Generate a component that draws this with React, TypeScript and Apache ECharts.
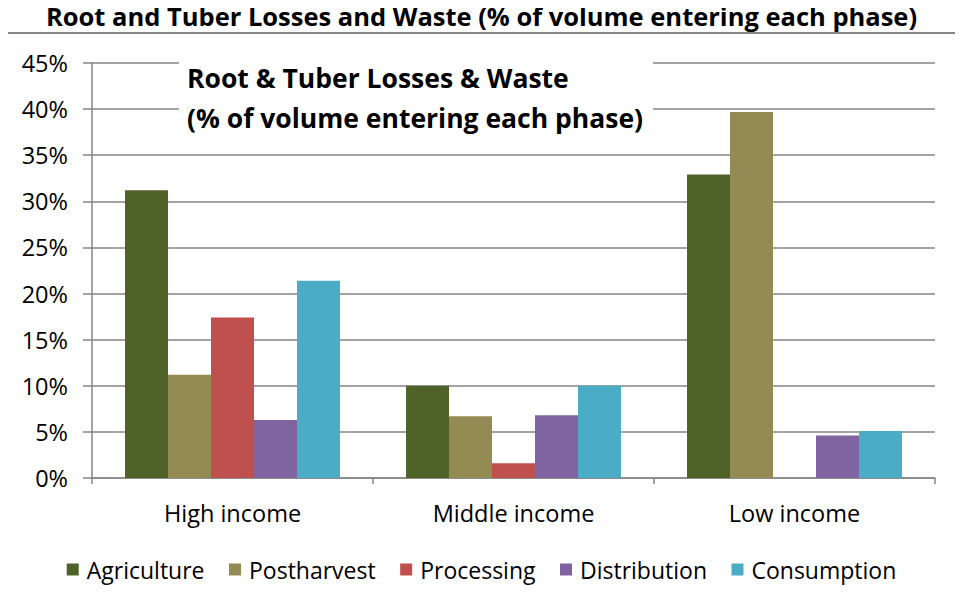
import React, { useEffect, useRef } from "react";
import * as echarts from "echarts";

const categories = ["High income", "Middle income", "Low income"];
const seriesNames = ["Agriculture", "Postharvest", "Processing", "Distribution", "Consumption"];
const agriculture = [31.2, 10.0, 32.9];
const postharvest = [11.2, 6.7, 39.7];
const processing = [17.4, 1.6, null];
const distribution = [6.3, 6.8, 4.6];
const consumption = [21.4, 10.0, 5.1];
const colors = ["#4F6228", "#948A54", "#C0504D", "#8064A2", "#4BACC6"];
const yTicks = { min: 0, max: 45, interval: 5 };

const FONT = "'Open Sans', 'Liberation Sans', sans-serif";

export default function App() {
  const ref = useRef<HTMLDivElement>(null);
  useEffect(() => {
    if (!ref.current) return;
    const chart = echarts.init(ref.current, null, { renderer: "svg" });
    const values = [agriculture, postharvest, processing, distribution, consumption];
    const border = { stroke: "#878787", lineWidth: 2 };
    chart.setOption({
      animation: false,
      textStyle: { fontFamily: FONT },
      title: {
        text: "Root and Tuber Losses and Waste (% of volume entering each phase)",
        left: "center",
        top: 2,
        padding: 0,
        textStyle: { fontFamily: FONT, fontWeight: "bold", fontSize: 25.5, color: "#000", lineHeight: 28 },
      },
      grid: { left: 92, right: 28, top: 63, bottom: 132 },
      legend: {
        bottom: 24,
        left: "center",
        itemWidth: 12,
        itemHeight: 12,
        itemGap: 24.5,
        icon: "rect",
        textStyle: { fontFamily: FONT, fontSize: 23, color: "#000", padding: [0, 0, 0, 3] },
        data: seriesNames,
      },
      xAxis: {
        type: "category",
        data: categories,
        axisLine: { lineStyle: { color: "#868686", width: 1.5 } },
        axisTick: { show: true, length: 6, lineStyle: { color: "#868686", width: 1.5 } },
        axisLabel: { fontFamily: FONT, fontSize: 23.5, color: "#000", margin: 23 },
      },
      yAxis: {
        type: "value",
        min: yTicks.min,
        max: yTicks.max,
        interval: yTicks.interval,
        axisLine: { show: true, lineStyle: { color: "#868686", width: 1.5 } },
        axisTick: { show: true, length: 9, lineStyle: { color: "#868686", width: 1.5 } },
        splitLine: { lineStyle: { color: "#868686", width: 1.5 } },
        axisLabel: { fontFamily: FONT, fontSize: 23.5, color: "#000", margin: 24, formatter: "{value}%" },
      },
      series: seriesNames.map((name, i) => ({
        name,
        type: "bar",
        data: values[i],
        barGap: "0%",
        barCategoryGap: "23.5%",
        itemStyle: { color: colors[i] },
      })),
      graphic: [
        { type: "line", shape: { x1: 3, y1: 33, x2: 963, y2: 33 }, style: border, z: 5 },
        { type: "line", shape: { x1: 3.5, y1: 32, x2: 3.5, y2: 609 }, style: border, z: 5 },
        { type: "line", shape: { x1: 3, y1: 608.5, x2: 963, y2: 608.5 }, style: border, z: 5 },
        {
          type: "rect",
          shape: { x: 179, y: 56, width: 474, height: 88 },
          style: { fill: "#fff" },
          z: 10,
        },
        {
          type: "text",
          left: 187,
          top: 58,
          z: 11,
          style: {
            text: "Root & Tuber Losses & Waste\n(% of volume entering each phase)",
            font: "bold 26.5px " + FONT,
            lineHeight: 40,
            fill: "#000",
          },
        },
      ],
    });
    return () => chart.dispose();
  }, []);
  return <div ref={ref} style={{ width: 963, height: 610, margin: -8 }} />;
}
